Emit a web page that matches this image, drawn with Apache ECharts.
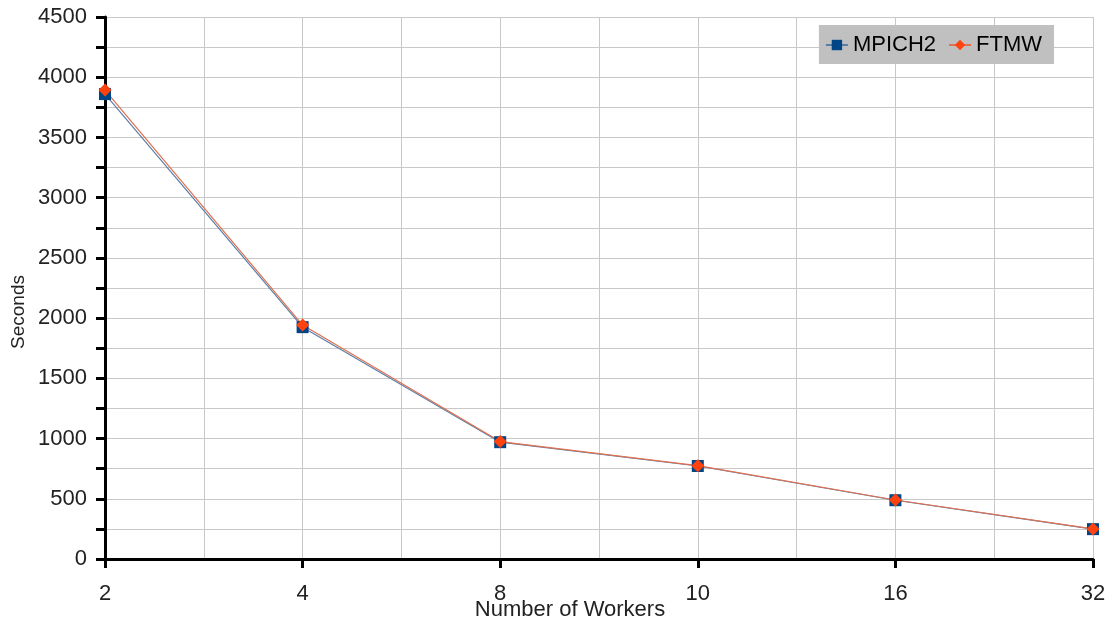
<!DOCTYPE html>
<html>
<head>
<meta charset="utf-8">
<script src="https://cdn.jsdelivr.net/npm/echarts@6/dist/echarts.min.js"></script>
<style>html,body{margin:0;padding:0;background:#fff}#c{width:1114px;height:620px}</style>
</head>
<body>
<div id="c"></div>
<script>
// Run time (seconds) by number of workers
const workers = ['2', '4', '8', '10', '16', '32'];
const mpich2 = [3860, 1925, 970, 772, 488, 248];
const ftmw = [3893, 1942, 975, 775, 490, 250];
const yTicks = [0, 500, 1000, 1500, 2000, 2500, 3000, 3500, 4000, 4500];

// Each worker count gets a slot, with an unlabeled slot in between for the extra grid line
const slots = [];
workers.forEach((w, i) => {
  slots.push(w);
  if (i < workers.length - 1) slots.push(w + '|' + workers[i + 1]);
});
const toPoints = arr => arr.map((v, i) => [i * 2, v]);
const font = '"Liberation Sans", Arial, sans-serif';

const chart = echarts.init(document.getElementById('c'));
chart.setOption({
  animation: false,
  grid: { left: 105, right: 21, top: 17, bottom: 61, outerBoundsMode: 'none', containLabel: false },
  legend: {
    right: 60, top: 25,
    backgroundColor: '#c0c0c0',
    padding: [9, 12, 8, 6],
    itemGap: 12,
    itemWidth: 22, itemHeight: 13,
    textStyle: { fontFamily: font, fontSize: 22, color: '#000' },
    data: ['MPICH2', 'FTMW']
  },
  graphic: [
    {
      type: 'text', x: 570, y: 610,
      style: { text: 'Number of Workers', font: '22px ' + font, fill: '#222',
        align: 'center', verticalAlign: 'middle' }
    },
    {
      type: 'text', x: 19, y: 312, rotation: Math.PI / 2,
      style: { text: 'Seconds', font: '19px ' + font, fill: '#222',
        align: 'center', verticalAlign: 'middle' }
    }
  ],
  xAxis: {
    type: 'category', data: slots, boundaryGap: false,
    axisLine: { lineStyle: { color: '#000', width: 3 } },
    axisTick: { show: true, length: 9, lineStyle: { color: '#000', width: 3 },
      interval: idx => idx % 2 === 0 },
    axisLabel: {
      fontFamily: font, fontSize: 22, color: '#222', margin: 24,
      interval: idx => idx % 2 === 0,
      formatter: v => (workers.includes(v) ? v : '')
    },
    splitLine: { show: true, interval: 0, lineStyle: { color: '#c8c8c8', width: 1 } }
  },
  yAxis: {
    type: 'value', min: yTicks[0], max: yTicks[yTicks.length - 1], interval: 500,
    axisLine: { show: true, lineStyle: { color: '#000', width: 3 } },
    axisTick: { show: true, length: 9, lineStyle: { color: '#000', width: 3 } },
    minorTick: { show: true, splitNumber: 2, length: 9, lineStyle: { color: '#000', width: 3 } },
    axisLabel: { fontFamily: font, fontSize: 22, color: '#222', margin: 18,
      formatter: v => String(v) },
    splitLine: { show: true, lineStyle: { color: '#c8c8c8', width: 1 } },
    minorSplitLine: { show: true, lineStyle: { color: '#c8c8c8', width: 1 } }
  },
  series: [
    {
      name: 'MPICH2', type: 'line', data: toPoints(mpich2),
      symbol: 'rect', symbolSize: 12,
      color: '#004586',
      lineStyle: { color: '#5a7fa8', width: 1.2 },
      itemStyle: { color: '#004586' }
    },
    {
      name: 'FTMW', type: 'line', data: toPoints(ftmw),
      symbol: 'diamond', symbolSize: 13,
      color: '#ff420e',
      lineStyle: { color: '#e07050', width: 1.2 },
      itemStyle: { color: '#ff420e' }
    }
  ]
});
</script>
</body>
</html>
